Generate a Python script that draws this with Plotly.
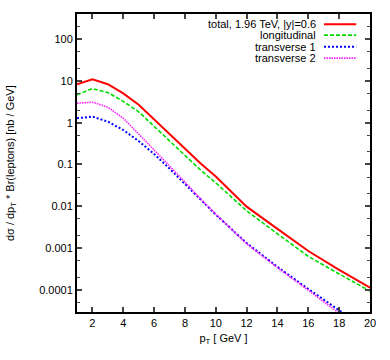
import plotly.graph_objects as go

# p_T values (GeV) and log10 of cross sections
pt = [1, 2, 3, 4, 5, 6, 7, 8, 9, 10, 12, 14, 16, 18, 20]

log_total = [0.92, 1.04, 0.92, 0.70, 0.43, 0.08, -0.28, -0.62, -0.97, -1.29,
             -2.01, -2.54, -3.07, -3.52, -3.95]
log_long = [0.67, 0.815, 0.72, 0.51, 0.26, -0.09, -0.43, -0.78, -1.13, -1.44,
            -2.11, -2.66, -3.20, -3.62, -4.03]
log_trans1 = [0.105, 0.145, 0.025, -0.175, -0.44, -0.75, -1.10, -1.47, -1.84, -2.20,
              -2.88, -3.45, -3.98, -4.50, -5.0]
log_trans2 = [0.465, 0.49, 0.37, 0.105, -0.27, -0.65, -1.03, -1.42, -1.82, -2.19,
              -2.90, -3.47, -4.01, -4.56, -5.05]

series_names = ['total, 1.96 TeV, |y|=0.6', 'longitudinal', 'transverse 1', 'transverse 2']
series_colors = ['#ff0000', '#00dd00', '#0000ff', '#ff22ff']

ytick_vals = [100, 10, 1, 0.1, 0.01, 0.001, 0.0001]
ytick_text = ['100', '10', '1', '0.1', '0.01', '0.001', '0.0001']
xtick_vals = [2, 4, 6, 8, 10, 12, 14, 16, 18, 20]

styles = [
    dict(width=2, dash='solid'),
    dict(width=1.6, dash='4px,2px'),
    dict(width=2, dash='2px,2px'),
    dict(width=1.6, dash='1.5px,1px'),
]

fig = go.Figure()
for name, logs, col, st in zip(series_names, [log_total, log_long, log_trans1, log_trans2],
                                series_colors, styles):
    fig.add_trace(go.Scatter(x=pt, y=[10 ** v for v in logs], mode='lines', name=name,
                             line=dict(color=col, **st), showlegend=False))

# legend drawn by hand: text right aligned, sample line to the right
row_y = [0.966, 0.929, 0.890, 0.852]
for name, col, st, yy in zip(series_names, series_colors, styles, row_y):
    fig.add_annotation(xref='paper', yref='paper', x=0.822, y=yy, text=name,
                       showarrow=False, xanchor='right', yanchor='middle',
                       font=dict(size=11, color='black'))
    fig.add_shape(type='line', xref='paper', yref='paper', x0=0.843, x1=0.953, y0=yy, y1=yy,
                  line=dict(color=col, **st))

fig.add_annotation(xref='paper', yref='paper', x=-0.225, y=0.5, textangle=-90,
                   text='dσ / dp<sub>T</sub> * Br(leptons) [nb / GeV]', showarrow=False,
                   xanchor='center', yanchor='middle', font=dict(size=11, color='black'))

fig.update_xaxes(range=[1, 20], tickvals=xtick_vals, ticks='inside', ticklen=5, tickwidth=1.5,
                 showline=True, linewidth=2, linecolor='black', mirror='ticks',
                 showgrid=False, zeroline=False,
                 title=dict(text='p<sub>T</sub> [ GeV ]', standoff=6, font=dict(size=11)))
fig.update_yaxes(type='log', range=[-4.53, 2.6], tickvals=ytick_vals, ticktext=ytick_text,
                 ticks='inside', ticklen=5, tickwidth=1.5,
                 showline=True, linewidth=2, linecolor='black', mirror='ticks',
                 showgrid=False, zeroline=False,
                 minor=dict(ticks='inside', ticklen=3, tickwidth=1, dtick='D2', showgrid=False))

fig.update_layout(width=390, height=360, margin=dict(l=77, r=20, t=14, b=48),
                  plot_bgcolor='white', paper_bgcolor='white',
                  font=dict(family='Liberation Sans, Arial, sans-serif', size=11, color='black'))

# drop the default 8px body margin so the figure sits at the page corner
fig.write_html('out.html', config={'displayModeBar': False},
               post_script="document.body.style.margin='0';")
